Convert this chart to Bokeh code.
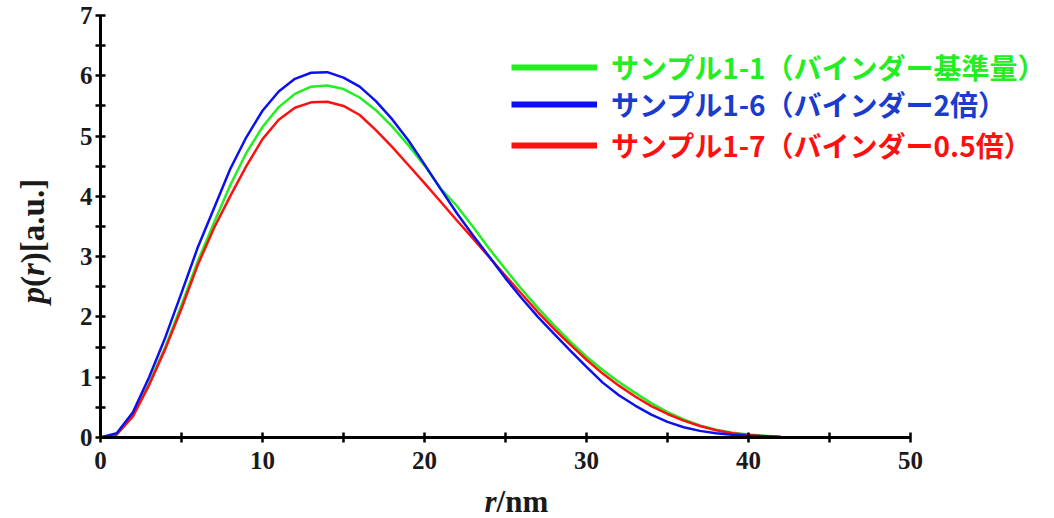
import math
from bokeh.plotting import figure
from bokeh.layouts import column, row
from bokeh.models import (FixedTicker, Label, Legend, LegendItem, Range1d)
from bokeh.embed import file_html
from bokeh.resources import INLINE

# Pair-distance distribution p(r) for three binder loadings
r_nm = list(range(0, 46))

p_std = [0, 0.05, 0.36, 0.9, 1.5, 2.2, 2.92, 3.56, 4.18, 4.72, 5.15, 5.48, 5.7, 5.82,
         5.84, 5.78, 5.64, 5.43, 5.16, 4.85, 4.51, 4.13, 3.84, 3.49, 3.13, 2.79, 2.46,
         2.15, 1.86, 1.59, 1.34, 1.12, 0.92, 0.74, 0.57, 0.42, 0.3, 0.2, 0.13, 0.08,
         0.05, 0.03, 0.01]
p_x2 = [0, 0.07, 0.42, 1.0, 1.66, 2.4, 3.15, 3.8, 4.45, 4.98, 5.42, 5.74, 5.95, 6.05,
        6.06, 5.97, 5.82, 5.58, 5.28, 4.93, 4.53, 4.12, 3.72, 3.35, 3.0, 2.64, 2.31,
        2.0, 1.72, 1.44, 1.17, 0.91, 0.7, 0.53, 0.38, 0.26, 0.17, 0.11, 0.07, 0.045,
        0.03, 0.02, 0.01, 0.005, 0, 0]
p_half = [0, 0.05, 0.35, 0.87, 1.47, 2.14, 2.86, 3.47, 4.0, 4.5, 4.95, 5.27, 5.47, 5.56,
          5.57, 5.5, 5.35, 5.1, 4.82, 4.52, 4.22, 3.91, 3.6, 3.3, 2.99, 2.68, 2.38,
          2.08, 1.8, 1.54, 1.29, 1.06, 0.86, 0.68, 0.52, 0.39, 0.28, 0.19, 0.12, 0.07,
          0.04, 0.02, 0.01]

labels = ["サンプル1-1（バインダー基準量）",
          "サンプル1-6（バインダー2倍）",
          "サンプル1-7（バインダー0.5倍）"]
line_colors = ["#22ee22", "#0a10f0", "#ff1010"]
text_colors = ["#22ee22", "#1a3ccc", "#ff1010"]

x_major = [0, 10, 20, 30, 40, 50]
x_minor = [5, 15, 25, 35, 45]
y_major = [0, 1, 2, 3, 4, 5, 6, 7]
y_minor = [0.5, 1.5, 2.5, 3.5, 4.5, 5.5, 6.5]

W, H = 1054, 518
ylab_w = 70          # strip holding the rotated y title
xlab_h = 36          # strip holding the x title
main_w, main_h = W - ylab_w, H - xlab_h
left, right, top, bottom = 30, 0, 15, main_h - 15 - 422
frame_w = main_w - left - right
axis_px = 810        # pixels spanned by r = 0..50
x_end = 50 * frame_w / axis_px

p = figure(width=main_w, height=main_h, output_backend="svg", toolbar_location=None,
           x_range=Range1d(0, x_end), y_range=Range1d(0, 7),
           min_border_left=left, min_border_right=right,
           min_border_top=top, min_border_bottom=bottom)
p.outline_line_color = None
p.xgrid.visible = False
p.ygrid.visible = False
p.background_fill_color = "white"
p.border_fill_color = "white"

for ax in (p.xaxis[0], p.yaxis[0]):
    ax.axis_line_width = 3
    ax.axis_line_color = "black"
    ax.major_tick_line_width = 2.5
    ax.minor_tick_line_width = 2.5
    ax.major_tick_in = 5
    ax.major_tick_out = 5
    ax.minor_tick_in = 5
    ax.minor_tick_out = 5
    ax.major_label_text_font = "Liberation Serif"
    ax.major_label_text_font_style = "bold"
    ax.major_label_text_font_size = "25px"
    ax.major_label_text_color = "#1a1a1a"

p.xaxis.ticker = FixedTicker(ticks=x_major, minor_ticks=x_minor)
p.yaxis.ticker = FixedTicker(ticks=y_major, minor_ticks=y_minor)
p.xaxis.bounds = (0, 50)
p.yaxis.bounds = (0, 7)
p.xaxis.major_label_standoff = 9
p.yaxis.major_label_standoff = 3

series = [(p_std, 0), (p_half, 2), (p_x2, 1)]
for ys, i in series:
    p.line(r_nm[:len(ys)], ys, line_color=line_colors[i], line_width=2.5)

# Legend: one block per entry so each label carries its own colour;
# the sample renderers hold a single NaN point so only the key line shows
nan = float("nan")
legend_y = [350, 313, 272]
for i in range(3):
    sample = p.line(x=[nan], y=[nan], line_color=line_colors[i], line_width=6)
    lg = Legend(items=[LegendItem(label=labels[i], renderers=[sample])],
                location=(411, legend_y[i]),
                label_text_color=text_colors[i],
                label_text_font="Noto Sans CJK JP",
                label_text_font_style="bold",
                label_text_font_size="28px",
                glyph_width=86, glyph_height=20,
                label_standoff=14, padding=0, margin=0,
                border_line_color=None, background_fill_alpha=0)
    p.add_layout(lg)


def text_strip(w, h):
    f = figure(width=w, height=h, output_backend="svg", toolbar_location=None,
               x_range=Range1d(0, w), y_range=Range1d(0, h),
               x_axis_type=None, y_axis_type=None, min_border=0)
    f.outline_line_color = None
    f.xgrid.visible = False
    f.ygrid.visible = False
    return f


serif = "Liberation Serif"

# Rotated y title p(r)[a.u.] with italic variables
# (the strip's frame lines up with the main frame, so y counts from the r axis)
ylab = text_strip(ylab_w, main_h)
fs = 33
y_parts = [("p", "bold italic", 0.5), ("(", "bold", 0.333),
           ("r", "bold italic", 0.389), (")[a.u.]", "bold", 2.555)]
off = 0.0
for txt, style, w in y_parts:
    ylab.add_layout(Label(x=32, y=134 + off, x_units="screen", y_units="screen",
                          text=txt, angle=math.pi / 2, text_font=serif,
                          text_font_style=style, text_font_size=f"{fs}px",
                          text_color="#1a1a1a", text_align="left",
                          text_baseline="middle"))
    off += w * fs

# x title r/nm
xlab = text_strip(W, xlab_h)
xs = 31
x_parts = [("r", "bold italic", 0.389), ("/nm", "bold", 1.667)]
off = 0.0
for txt, style, w in x_parts:
    xlab.add_layout(Label(x=484 + off, y=17, x_units="screen", y_units="screen",
                          text=txt, text_font=serif, text_font_style=style,
                          text_font_size=f"{xs}px", text_color="#1a1a1a",
                          text_align="left", text_baseline="middle"))
    off += w * xs

layout = column(row(ylab, p), xlab)
open("out.html", "w").write(file_html(layout, INLINE))
